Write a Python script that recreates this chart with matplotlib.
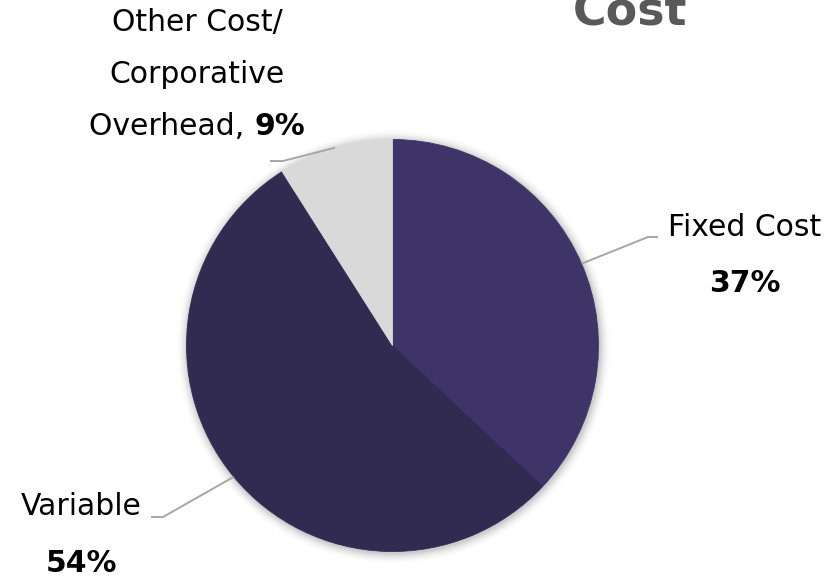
import numpy as np
import matplotlib
matplotlib.use("Agg")
import matplotlib.pyplot as plt
from matplotlib.patches import Circle

plt.rcParams['font.family'] = ['DejaVu Sans']

# cost split, clockwise from 12 o'clock
categories = ["Fixed Cost", "Variable", "Other Cost/\nCorporative\nOverhead"]
shares = [37, 54, 9]
colors = ["#3E3467", "#312A51", "#D9D9D9"]

W, H = 836, 580
fig = plt.figure(figsize=(W / 100, H / 100), dpi=100)
ax = fig.add_axes([0, 0, 1, 1])
ax.set_aspect('equal')

def py(y):
    # pixel rows counted from the top
    return H - y

cx, cy, r = 392.5, py(345.5), 206

# soft shadow round the pie
for i in range(1, 12):
    ax.add_patch(Circle((cx + 1, cy - 1.5), r + i, color='black',
                        alpha=0.012 * (12 - i) / 4, lw=0, zorder=0))
ax.add_patch(Circle((cx, cy), r, color='white', lw=0, zorder=0.5))

wedges, _ = ax.pie(shares, colors=colors, startangle=90, counterclock=False,
                   center=(cx, cy), radius=r, frame=True,
                   wedgeprops=dict(linewidth=0))
for w, c in zip(wedges, colors):
    w.set_edgecolor(c)
    w.set_linewidth(0.6)
ax.set_xlim(0, W)
ax.set_ylim(0, H)
ax.axis('off')

line_kw = dict(color='#A6A6A6', lw=1.4, zorder=3, solid_capstyle='butt')
fs = 21.5

def leader(wedge, elbow, end):
    mid = np.deg2rad((wedge.theta1 + wedge.theta2) / 2)
    x0, y0 = cx + r * np.cos(mid), cy + r * np.sin(mid)
    ax.plot([x0, elbow[0], end[0]], [y0, py(elbow[1]), py(end[1])], **line_kw)

# Fixed Cost
leader(wedges[0], (648, 237), (658, 237))
ax.text(745, py(236), categories[0], fontsize=fs, ha='center', va='baseline')
ax.text(745, py(292), f"{shares[0]}%", fontsize=fs, fontweight='bold',
        ha='center', va='baseline')

# Variable
leader(wedges[1], (163, 517), (151, 517))
ax.text(81, py(515), categories[1], fontsize=fs, ha='center', va='baseline')
ax.text(81, py(572), f"{shares[1]}%", fontsize=fs, fontweight='bold',
        ha='center', va='baseline')

# Other cost / overhead
leader(wedges[2], (283, 161), (270, 161))
lines = categories[2].split("\n")
ax.text(197, py(31), lines[0], fontsize=fs, ha='center', va='baseline')
ax.text(197, py(83), lines[1], fontsize=fs, ha='center', va='baseline')
t_norm = ax.text(0, py(135), lines[2] + ", ", fontsize=fs, ha='left', va='baseline')
t_bold = ax.text(0, py(135), f"{shares[2]}%", fontsize=fs, fontweight='bold',
                 ha='left', va='baseline')
fig.canvas.draw()
rend = fig.canvas.get_renderer()
w1 = t_norm.get_window_extent(rend).width
w2 = t_bold.get_window_extent(rend).width
x_start = 197 - (w1 + w2) / 2
t_norm.set_x(x_start)
t_bold.set_x(x_start + w1)

# title, second line only shows at the top edge
ax.text(630, py(25), "Cost", fontsize=33, fontweight='bold', color='#595959',
        ha='center', va='baseline')

fig.savefig("out.png", dpi=100)
